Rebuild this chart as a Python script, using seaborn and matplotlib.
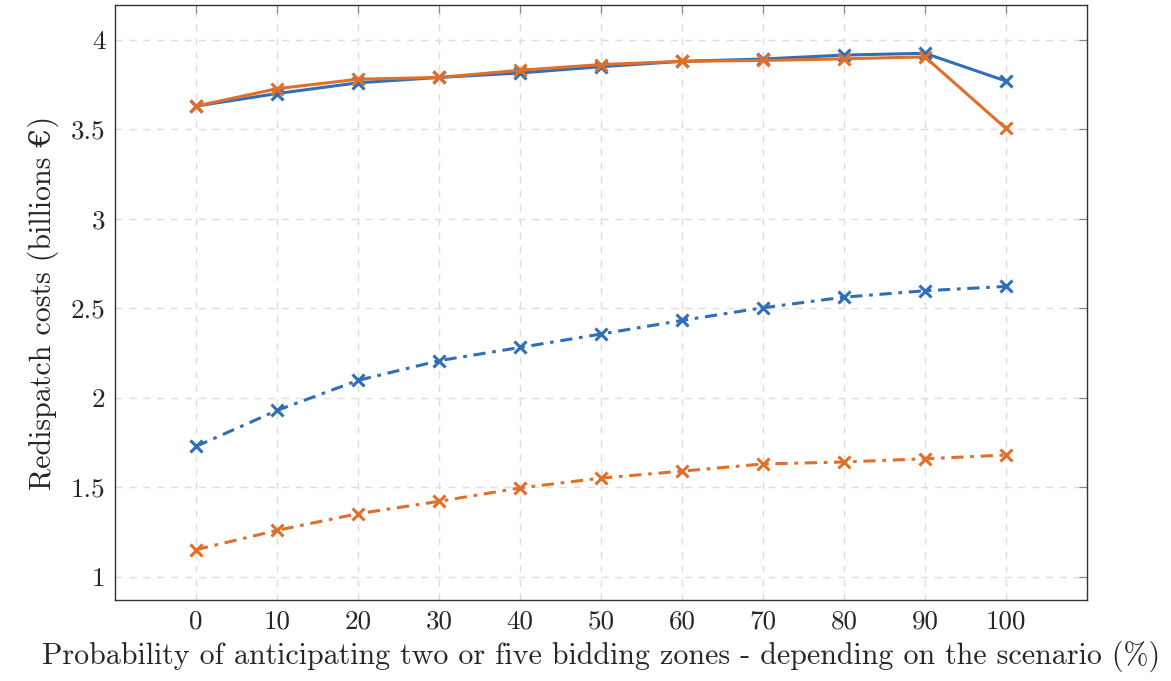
import numpy as np
import pandas as pd
import matplotlib
matplotlib.use("Agg")
import matplotlib.pyplot as plt
import seaborn as sns

# Data
prob = [0, 10, 20, 30, 40, 50, 60, 70, 80, 90, 100]
blue_solid = [3.63, 3.70, 3.76, 3.79, 3.815, 3.85, 3.88, 3.893, 3.915, 3.925, 3.77]
orange_solid = [3.63, 3.727, 3.78, 3.79, 3.83, 3.862, 3.88, 3.885, 3.894, 3.905, 3.505]
blue_dashdot = [1.728, 1.929, 2.097, 2.207, 2.281, 2.356, 2.432, 2.503, 2.562, 2.598, 2.622]
orange_dashdot = [1.151, 1.259, 1.352, 1.421, 1.496, 1.551, 1.59, 1.63, 1.641, 1.659, 1.68]
yticks = [1, 1.5, 2, 2.5, 3, 3.5, 4]
yticklabels = ["1", "1.5", "2", "2.5", "3", "3.5", "4"]

BLUE = "#2f6fb7"
ORANGE = "#e06f2a"

sns.set_style("white")
plt.rcParams["font.family"] = ["cmr10", "DejaVu Serif"]
plt.rcParams["axes.formatter.use_mathtext"] = True

fig = plt.figure(figsize=(11.71, 6.81), dpi=100)
ax = fig.add_axes([0.0982, 0.119, 0.8300, 0.8737])

series = [
    (blue_solid, BLUE, "-"),
    (orange_solid, ORANGE, "-"),
    (blue_dashdot, BLUE, "dashdot"),
    (orange_dashdot, ORANGE, "dashdot"),
]
for vals, col, ls in series:
    sns.lineplot(x=prob, y=vals, ax=ax, color=col, linewidth=2.2,
                 marker="x", markersize=9, markeredgewidth=2.2,
                 markeredgecolor=col)
    ln = ax.lines[-1]
    if ls == "dashdot":
        ln.set_dashes([4, 2.2, 1.2, 2.2])

ax.set_xlim(-10, 110)
ax.set_ylim(0.87, 4.195)
ax.set_xticks(prob)
ax.set_xticklabels([str(p) for p in prob])
ax.set_yticks(yticks)
ax.set_yticklabels(yticklabels)

ax.grid(True, linestyle=(0, (5, 5)), color="#dddddd", linewidth=1.0)
ax.set_axisbelow(True)
ax.tick_params(direction="in", length=6, width=0.9, color="#888888",
               top=True, right=True, labelsize=19.5, pad=7)
for s in ax.spines.values():
    s.set_color("#333333")
    s.set_linewidth(1.0)

ax.set_xlabel("Probability of anticipating two or five bidding zones - depending on the scenario (%)",
              fontsize=21.6, labelpad=5)
ax.set_ylabel("Redispatch costs (billions €)", fontsize=21.6, labelpad=8)

fig.savefig("out.png", dpi=100, facecolor="white")
